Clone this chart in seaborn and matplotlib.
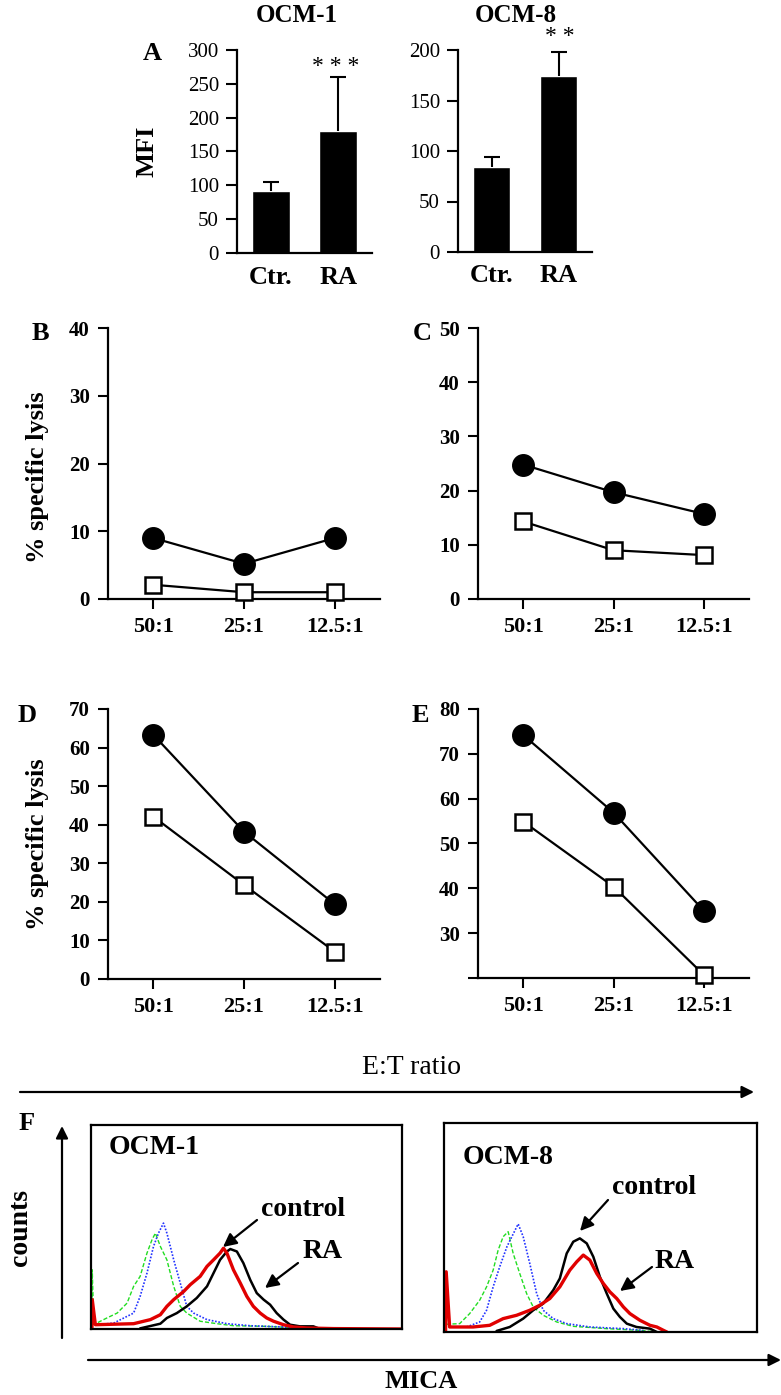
import numpy as np
import matplotlib
matplotlib.use("Agg")
import matplotlib.pyplot as plt
import seaborn as sns

# ---------------- data ----------------
groups = ["Ctr.", "RA"]
mfi_ocm1 = [91, 181]
mfi_ocm1_sd = [14, 79]
mfi_ocm8 = [84, 174]
mfi_ocm8_sd = [10, 24]

ratios = ["50:1", "25:1", "12.5:1"]
lysis_B_ra = [9.0, 5.2, 9.0]
lysis_B_ctr = [2.1, 1.0, 1.0]
lysis_C_ra = [24.8, 19.7, 15.7]
lysis_C_ctr = [14.3, 9.0, 8.1]
lysis_D_ra = [63.3, 38.2, 19.4]
lysis_D_ctr = [42.1, 24.4, 7.1]
lysis_E_ra = [74.2, 56.9, 35.0]
lysis_E_ctr = [54.9, 40.4, 20.7]

# flow-cytometry histograms (MICA fluorescence 0-100, counts 0-100)
ocm1_ra_x = [0.3, 0.4, 1.4, 13.7, 19.1, 22.3, 24.4, 26.6, 29.8, 31.9, 35.1, 37.3, 39.4, 41.5, 42.6,
             43.7, 45.8, 48.0, 50.1, 52.2, 54.4, 56.5, 58.7, 61.9, 65.1, 69.4, 78.0, 100.0]
ocm1_ra_y = [0.0, 14.4, 2.1, 2.6, 4.6, 7.0, 11.1, 14.4, 18.4, 21.7, 25.8, 30.7, 33.9, 37.2, 39.6,
             37.2, 29.0, 22.5, 16.0, 11.1, 7.8, 5.4, 3.8, 2.1, 1.0, 0.5, 0.2, 0.0]
ocm1_ctr_x = [15.8, 22.3, 24.4, 27.6, 30.8, 34.0, 37.3, 39.4, 41.5, 43.7, 44.8, 46.9, 49.0, 51.2,
              53.3, 55.5, 57.6, 59.7, 61.9, 64.0, 67.2, 71.5, 73.7]
ocm1_ctr_y = [0.3, 2.6, 5.4, 7.8, 11.1, 15.2, 20.9, 27.4, 33.9, 38.0, 39.2, 38.0, 32.3, 24.1,
              17.6, 14.4, 11.9, 7.8, 4.6, 2.1, 1.3, 1.3, 0.0]
ocm1_iso1_x = [0.3, 0.4, 0.9, 3.0, 5.1, 8.4, 11.6, 13.7, 15.8, 18.0, 19.6, 20.7, 22.3, 24.4, 26.6,
               28.7, 30.8, 35.1, 40.5, 45.8, 56.5, 67.2, 72.6]
ocm1_iso1_y = [0.0, 29.0, 2.1, 3.8, 5.4, 7.8, 12.7, 20.9, 25.8, 37.2, 43.7, 47.0, 40.5, 33.9, 20.9,
               11.1, 7.8, 3.8, 2.6, 1.6, 1.3, 0.5, 0.0]
ocm1_iso2_x = [1.9, 7.3, 11.6, 13.7, 15.8, 18.0, 20.1, 21.7, 23.3, 24.4, 26.6, 28.7, 30.8, 33.0,
               37.3, 43.7, 51.2, 61.9, 67.2]
ocm1_iso2_y = [2.1, 2.9, 6.2, 7.8, 16.0, 27.4, 40.5, 47.0, 51.9, 47.0, 33.9, 22.5, 11.1, 7.8,
               4.6, 2.6, 1.6, 1.0, 0.0]

ocm8_ra_x = [0.5, 0.7, 1.8, 9.3, 14.6, 18.9, 23.2, 27.4, 30.6, 33.8, 37.0, 40.2, 42.4, 44.5, 46.6,
             48.8, 50.9, 53.0, 55.2, 57.3, 59.4, 62.6, 65.8, 68.0, 70.1, 71.2]
ocm8_ra_y = [0.0, 28.8, 2.4, 2.4, 3.2, 6.4, 8.0, 10.4, 12.8, 16.0, 21.6, 29.6, 33.6, 36.8, 34.4,
             28.0, 23.2, 19.2, 16.0, 12.0, 8.8, 5.6, 3.2, 2.4, 0.8, 0.0]
ocm8_ctr_x = [16.8, 21.0, 25.3, 28.5, 31.7, 34.9, 37.0, 39.2, 41.3, 43.4, 45.6, 47.7, 49.8, 52.0,
              54.1, 56.2, 58.4, 61.5, 65.8, 68.0]
ocm8_ctr_y = [0.5, 2.4, 6.4, 10.4, 13.6, 20.0, 25.6, 37.6, 43.2, 44.8, 42.4, 36.0, 26.4, 18.4,
              11.2, 7.2, 4.0, 2.4, 1.6, 0.0]
ocm8_iso1_x = [0.7, 5.0, 8.2, 11.4, 13.6, 15.7, 17.3, 18.9, 20.5, 22.1, 24.2, 26.4, 28.5, 31.7,
               36.0, 41.3, 52.0, 62.6, 68.0]
ocm8_iso1_y = [3.7, 4.0, 8.8, 15.2, 21.6, 29.6, 39.2, 45.6, 48.0, 37.6, 28.0, 18.4, 12.0, 8.0,
               4.8, 2.7, 1.6, 0.8, 0.0]
ocm8_iso2_x = [7.2, 11.4, 13.6, 15.7, 17.8, 20.1, 22.2, 23.7, 25.3, 27.4, 29.6, 31.7, 34.9, 39.2,
               46.6, 57.3, 63.7]
ocm8_iso2_y = [2.4, 4.8, 10.4, 21.6, 31.2, 40.8, 47.2, 51.7, 45.6, 32.8, 18.4, 10.4, 6.4, 4.0,
               2.4, 1.6, 0.8]

# ---------------- style ----------------
sns.set_theme(style="ticks")
plt.rcParams["font.family"] = ["Liberation Serif", "DejaVu Serif"]
plt.rcParams["axes.edgecolor"] = "black"
plt.rcParams["axes.labelcolor"] = "black"
plt.rcParams["xtick.color"] = "black"
plt.rcParams["ytick.color"] = "black"
plt.rcParams["text.color"] = "black"

W, H = 781, 1395
fig = plt.figure(figsize=(W / 100, H / 100), dpi=100)
fig.patch.set_facecolor("white")


def px_axes(x0, y0, x1, y1):
    return fig.add_axes([x0 / W, 1 - y1 / H, (x1 - x0) / W, (y1 - y0) / H])


def style_axes(ax):
    sns.despine(ax=ax)
    for s in ("left", "bottom"):
        ax.spines[s].set_linewidth(1.6)
        ax.spines[s].set_color("black")
    ax.tick_params(width=1.5, color="black")


# ---------------- panel A ----------------
def bar_panel(ax, vals, sds, ymax, step):
    sns.barplot(x=groups, y=vals, color="black", saturation=1, width=0.56, ax=ax, errorbar=None)
    eb = ax.errorbar([0, 1], vals, yerr=[[0, 0], sds], fmt="none", ecolor="black",
                     elinewidth=1.5, capsize=6, capthick=1.5)
    for cap in eb[1]:
        if np.allclose(cap.get_ydata(), vals):
            cap.set_visible(False)
    ax.set_xlim(-0.5, 1.5)
    ax.set_ylim(0, ymax)
    ax.set_yticks(np.arange(0, ymax + 1, step))
    style_axes(ax)
    ax.tick_params(axis="y", length=8, pad=5, labelsize=15)
    ax.tick_params(axis="x", length=0, pad=9, labelsize=19)
    for t in ax.get_xticklabels():
        t.set_fontweight("bold")
    ax.set_xlabel("")


axA1 = px_axes(237, 50, 372, 253)
bar_panel(axA1, mfi_ocm1, mfi_ocm1_sd, 300, 50)
axA1.set_ylabel("MFI", fontsize=19, fontweight="bold", va="center")
axA1.yaxis.set_label_coords((147 - 237) / 135, 0.5)

axA2 = px_axes(458, 50, 592, 252)
bar_panel(axA2, mfi_ocm8, mfi_ocm8_sd, 200, 50)
axA2.set_ylabel("")


# ---------------- panels B-E ----------------
def lysis_panel(ax, ra, ctr, ylo, yhi, ticks, ticklabels=None):
    xs = np.arange(len(ratios))
    sns.lineplot(x=xs, y=ra, ax=ax, color="black", linewidth=1.6, marker="o", markersize=15.5,
                 markerfacecolor="black", markeredgecolor="black", markeredgewidth=1,
                 clip_on=False, zorder=3)
    sns.lineplot(x=xs, y=ctr, ax=ax, color="black", linewidth=1.6, marker="s", markersize=12,
                 markerfacecolor="white", markeredgecolor="black", markeredgewidth=1.8,
                 clip_on=False, zorder=4)
    ax.set_xlim(-0.5, 2.5)
    ax.set_ylim(ylo, yhi)
    ax.set_xticks(xs)
    ax.set_xticklabels(ratios)
    ax.set_yticks(ticks)
    if ticklabels is not None:
        ax.set_yticklabels(ticklabels)
    style_axes(ax)
    ax.tick_params(axis="y", length=7, pad=6, labelsize=15)
    ax.tick_params(axis="x", length=7, pad=6, labelsize=16)
    for t in ax.get_xticklabels() + ax.get_yticklabels():
        t.set_fontweight("bold")


axB = px_axes(108, 328, 380, 599)
lysis_panel(axB, lysis_B_ra, lysis_B_ctr, 0, 40, np.arange(0, 41, 10))
axB.set_ylabel("% specific lysis", fontsize=19, fontweight="bold", va="center")
axB.yaxis.set_label_coords((38 - 108) / 272, 0.45)

axC = px_axes(478, 328, 749, 599)
lysis_panel(axC, lysis_C_ra, lysis_C_ctr, 0, 50, np.arange(0, 51, 10))

axD = px_axes(108, 709, 380, 979)
lysis_panel(axD, lysis_D_ra, lysis_D_ctr, 0, 70, np.arange(0, 71, 10))
axD.set_ylabel("% specific lysis", fontsize=19, fontweight="bold", va="center")
axD.yaxis.set_label_coords((38 - 108) / 272, 0.5)

axE = px_axes(478, 709, 749, 978)
e_ticks = np.arange(20, 81, 10)
lysis_panel(axE, lysis_E_ra, lysis_E_ctr, 20, 80, e_ticks,
            [""] + [str(v) for v in e_ticks[1:]])


# ---------------- panel F ----------------
def hist_panel(ax, curves):
    for (xv, yv, col, ls, lw) in curves:
        sns.lineplot(x=xv, y=yv, ax=ax, color=col, linestyle=ls, linewidth=lw, sort=False,
                     estimator=None)
    ax.set_xlim(0, 100)
    ax.set_ylim(0, 100)
    ax.set_xticks([])
    ax.set_yticks([])
    for s in ax.spines.values():
        s.set_visible(True)
        s.set_color("black")
        s.set_linewidth(1.6)
    ax.set_facecolor("white")


axF1 = px_axes(91, 1125, 402, 1329)
hist_panel(axF1, [
    (ocm1_iso1_x, ocm1_iso1_y, "#22dd22", (0, (3, 1.5)), 1.0),
    (ocm1_iso2_x, ocm1_iso2_y, "#2233ff", (0, (1, 1)), 1.2),
    (ocm1_ctr_x, ocm1_ctr_y, "black", "-", 1.8),
    (ocm1_ra_x, ocm1_ra_y, "#e00000", "-", 2.4),
])
axF2 = px_axes(444, 1123, 757, 1332)
hist_panel(axF2, [
    (ocm8_iso1_x, ocm8_iso1_y, "#22dd22", (0, (3, 1.5)), 1.0),
    (ocm8_iso2_x, ocm8_iso2_y, "#2233ff", (0, (1, 1)), 1.2),
    (ocm8_ctr_x, ocm8_ctr_y, "black", "-", 1.8),
    (ocm8_ra_x, ocm8_ra_y, "#e00000", "-", 2.4),
])

# ---------------- overlay for labels & arrows ----------------
ov = fig.add_axes([0, 0, 1, 1], zorder=10)
ov.set_xlim(0, W)
ov.set_ylim(H, 0)
ov.axis("off")
ov.patch.set_alpha(0)

bold = dict(fontweight="bold", ha="center", va="center")
ov.text(297, 15, "OCM-1", fontsize=18, **bold)
ov.text(516, 15, "OCM-8", fontsize=18, **bold)
ov.text(336, 67, "* * *", fontsize=17, ha="center", va="center")
ov.text(560, 37, "* *", fontsize=17, ha="center", va="center")

ov.text(152, 53, "A", fontsize=19, **bold)
ov.text(40, 333, "B", fontsize=19, **bold)
ov.text(422, 333, "C", fontsize=19, **bold)
ov.text(27, 715, "D", fontsize=19, **bold)
ov.text(420, 715, "E", fontsize=19, **bold)
ov.text(27, 1124, "F", fontsize=19, **bold)

ov.text(411, 1067, "E:T ratio", fontsize=20, ha="center", va="center")
ov.text(421, 1382, "MICA", fontsize=19, **bold)
ov.text(20, 1228, "counts", fontsize=20, rotation=90, **bold)

ov.text(109, 1148, "OCM-1", fontsize=20, fontweight="bold", ha="left", va="center")
ov.text(463, 1157, "OCM-8", fontsize=20, fontweight="bold", ha="left", va="center")
ov.text(261, 1210, "control", fontsize=20, fontweight="bold", ha="left", va="center")
ov.text(303, 1251, "RA", fontsize=20, fontweight="bold", ha="left", va="center")
ov.text(612, 1187, "control", fontsize=20, fontweight="bold", ha="left", va="center")
ov.text(655, 1261, "RA", fontsize=20, fontweight="bold", ha="left", va="center")

small_arrow = dict(arrowstyle="-|>", color="black", lw=1.6, mutation_scale=20,
                   shrinkA=0, shrinkB=0)
for (x0, y0, x1, y1) in [(257, 1220, 223, 1247), (298, 1263, 265, 1288),
                         (608, 1200, 580, 1231), (652, 1267, 620, 1291)]:
    ov.annotate("", xy=(x1, y1), xytext=(x0, y0), arrowprops=small_arrow)

axis_arrow = dict(arrowstyle="-|>", color="black", lw=1.6, mutation_scale=18,
                  shrinkA=0, shrinkB=0)
ov.annotate("", xy=(754, 1092), xytext=(20, 1092), arrowprops=axis_arrow)
ov.annotate("", xy=(781, 1360), xytext=(88, 1360), arrowprops=axis_arrow)
ov.annotate("", xy=(62, 1126), xytext=(62, 1338), arrowprops=axis_arrow)

fig.savefig("out.png", dpi=100, facecolor="white")
